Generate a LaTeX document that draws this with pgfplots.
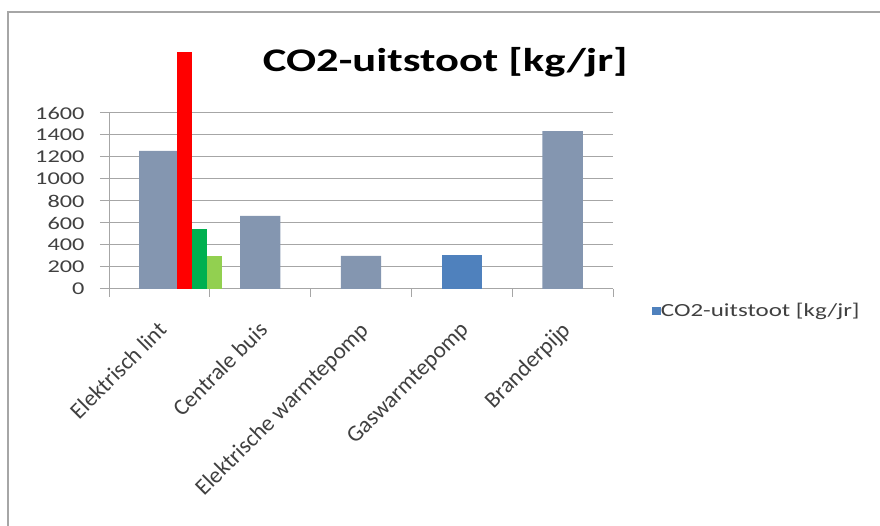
\documentclass[border=0pt]{standalone}
\usepackage{pgfplots}
\pgfplotsset{compat=1.18}
\usepackage{fontspec}
\setmainfont{Carlito}[FakeStretch=1.35]
\newfontfamily\labelfont{Carlito}
\definecolor{barGray}{HTML}{8496B0}
\definecolor{barBlue}{HTML}{4F81BD}
\definecolor{barGreen}{HTML}{00B050}
\definecolor{barLime}{HTML}{92D050}
\definecolor{gridGray}{HTML}{A6A6A6}
\definecolor{txt}{HTML}{404040}

\begin{document}
\begin{tikzpicture}
\useasboundingbox (0pt,0pt) rectangle (880pt,526pt);
% chart frame (only left and top are visible)
\draw[gridGray, line width=1.2pt] (8pt,0pt) -- (8pt,514pt) -- (880pt,514pt);
\begin{axis}[
    at={(109pt,237pt)}, anchor=south west,
    scale only axis, width=504pt, height=176pt,
    xmin=-0.5, xmax=4.5, ymin=0, ymax=1600,
    clip=false,
    axis lines=left,
    axis line style={-, gridGray, line width=1pt},
    ymajorgrids, grid style={gridGray, line width=1pt},
    ytick={0,200,...,1600},
    xtick={0,...,4},
    xticklabels={Elektrisch lint, Centrale buis, Elektrische warmtepomp, Gaswarmtepomp, Branderpijp},
    minor xtick={-0.5,0.5,...,4.5},
    tick align=outside, major tick length=9pt, minor tick length=8pt,
    tick style={gridGray, line width=1pt},
    major x tick style={draw=none},
    tick label style={font=\fontsize{18}{20}\selectfont, text=txt},
    /pgf/number format/assume math mode=true,
    /pgf/number format/1000 sep={},
    yticklabel style={xshift=-12pt},
    % shifts act in the rotated frame
    xticklabel style={rotate=45, anchor=north east, inner sep=0pt,
        font=\labelfont\fontsize{23}{25}\selectfont, xshift=-17.5pt, yshift=-13.5pt},
    title={CO2-uitstoot [kg/jr]},
    title style={font=\bfseries\fontsize{33}{36}\selectfont, at={(0.667,1)}, anchor=base, yshift=35pt},
    legend style={at={(1.077,-0.122)}, anchor=west, draw=none, fill=none,
        inner sep=0pt, nodes={inner sep=1pt},
        font=\fontsize{18.5}{20}\selectfont, text=txt},
    legend cell align=left,
]
% main series
\addplot[ybar, bar width=0.4, bar shift=0pt, fill=barGray, draw=none, forget plot]
    coordinates {(0,1255) (1,665) (2,300) (4,1436)};
\addplot[ybar, bar width=0.4, bar shift=0pt, fill=barBlue, draw=none, forget plot]
    coordinates {(3,309)};
% extra bars at Elektrisch lint
\addplot[ybar, bar width=0.15, bar shift=0pt, fill=red, draw=none, forget plot]
    coordinates {(0.25,2155)};
\addplot[ybar, bar width=0.15, bar shift=0pt, fill=barGreen, draw=none, forget plot]
    coordinates {(0.40,545)};
\addplot[ybar, bar width=0.15, bar shift=0pt, fill=barLime, draw=none, forget plot]
    coordinates {(0.55,300)};
\addlegendimage{legend image code/.code={\fill[barBlue] (0pt,-3.5pt) rectangle (7.5pt,3.5pt);}}
\addlegendentry{CO2-uitstoot [kg/jr]}
\end{axis}
\end{tikzpicture}
\end{document}
